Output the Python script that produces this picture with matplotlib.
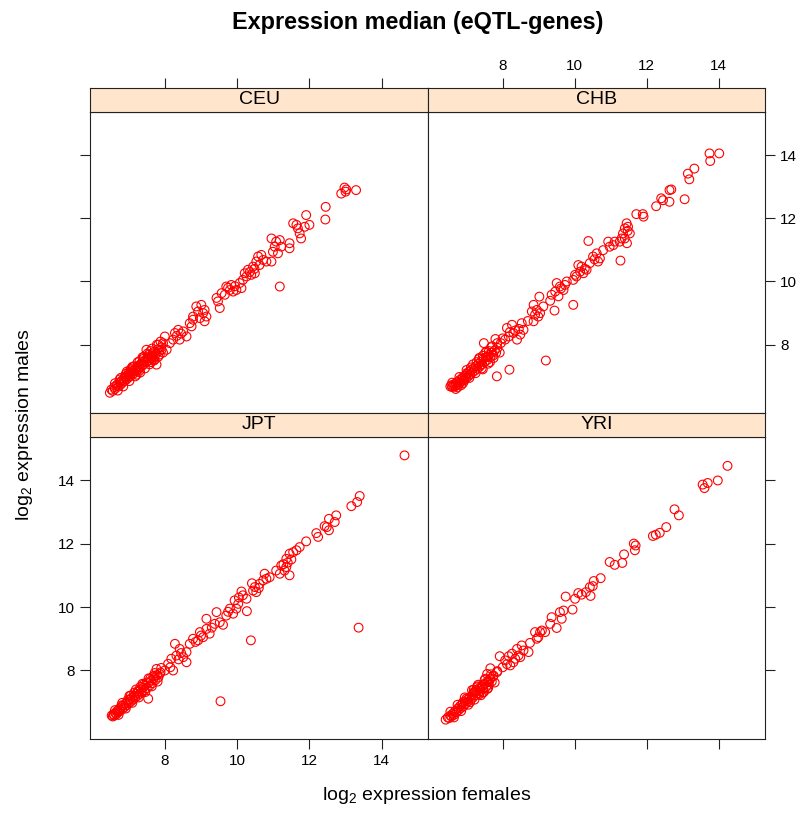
import numpy as np
import matplotlib
matplotlib.use("Agg")
import matplotlib.pyplot as plt

plt.rcParams["font.family"] = ["Liberation Sans", "DejaVu Sans"]
plt.rcParams["mathtext.fontset"] = "custom"
plt.rcParams["mathtext.rm"] = "Liberation Sans"

# (female, male) median log2 expression per gene, one array per population
ceu = np.array([
    (6.48, 6.48), (6.52, 6.58), (6.56, 6.54), (6.6, 6.66), (6.62, 6.6), (6.66, 6.7), (6.68, 6.74),
    (6.72, 6.68), (6.75, 6.8), (6.78, 6.74), (6.8, 6.86), (6.83, 6.8), (6.86, 6.92), (6.88, 6.85),
    (6.91, 6.95), (6.94, 6.9), (6.96, 7.02), (6.99, 6.96), (7.02, 7.08), (7.04, 7.0), (7.07, 7.12),
    (7.1, 7.05), (7.12, 7.18), (7.15, 7.1), (7.18, 7.22), (7.2, 7.16), (7.23, 7.3), (7.26, 7.22),
    (7.28, 7.34), (7.31, 7.28), (7.34, 7.4), (7.37, 7.33), (7.4, 7.46), (7.42, 7.38), (7.45, 7.5),
    (7.48, 7.44), (7.52, 7.58), (7.55, 7.5), (7.58, 7.62), (7.62, 7.56), (7.65, 7.7), (7.68, 7.64),
    (7.72, 7.78), (7.75, 7.7), (7.8, 7.85), (7.85, 7.8), (7.9, 7.92), (7.49, 7.84), (7.77, 7.37),
    (7.3, 7.48), (7.6, 7.8), (7.1, 7.25), (6.9, 7.0), (7.0, 7.12), (7.4, 7.55),
    (6.62, 6.78), (6.7, 6.55), (6.78, 6.95), (6.85, 6.68), (6.95, 7.15), (7.02, 6.85), (7.1, 7.3),
    (7.18, 7.0), (7.25, 7.45), (7.32, 7.12), (7.38, 7.6), (7.45, 7.25), (7.52, 7.72), (7.58, 7.38),
    (7.65, 7.88), (7.7, 7.5), (7.78, 8.0), (7.82, 7.62), (7.88, 8.1), (7.95, 7.75), (7.05, 7.22),
    (7.22, 7.05), (7.42, 7.62), (7.62, 7.45), (6.92, 7.08), (7.3, 7.18), (7.55, 7.68), (7.68, 7.55),
    (7.15, 7.32), (6.75, 6.9),
    (7.54, 7.58), (7.63, 7.63), (7.72, 7.53), (7.82, 8.0), (7.86, 7.69), (7.91, 7.84),
    (8.0, 8.26), (8.23, 8.16), (8.37, 8.47), (8.51, 8.42), (8.6, 8.26), (8.41, 8.16), (8.14, 8.05),
    (7.95, 8.05), (8.28, 8.37), (8.05, 7.84), (8.45, 8.35), (8.33, 8.28),
    (8.69, 8.68), (8.78, 8.89), (8.87, 9.21), (9.01, 9.26), (9.1, 9.1), (9.15, 8.89), (9.1, 8.74),
    (8.97, 8.84), (8.78, 8.79), (9.06, 9.0), (8.74, 8.58), (8.92, 9.05),
    (9.52, 9.16), (9.47, 9.37), (9.57, 9.63), (9.7, 9.84), (9.84, 9.89), (9.98, 9.73), (10.12, 9.79),
    (9.89, 9.68), (9.66, 9.58), (9.8, 9.73), (10.07, 9.95), (10.16, 10.05), (10.21, 10.26),
    (10.26, 10.16), (9.43, 9.48), (9.75, 9.8), (9.94, 9.85),
    (10.3, 10.37), (10.44, 10.47), (10.53, 10.63), (10.58, 10.79), (10.67, 10.84), (10.72, 10.68),
    (10.81, 10.63), (10.95, 10.63), (10.62, 10.52), (10.49, 10.26), (10.39, 10.21), (10.35, 10.3),
    (10.48, 10.4),
    (10.95, 11.36), (11.08, 11.26), (11.18, 11.31), (11.04, 11.1), (11.13, 10.89), (11.45, 11.21),
    (11.45, 11.05), (10.99, 10.94), (11.22, 11.1), (11.18, 9.84),
    (11.55, 11.84), (11.68, 11.68), (11.73, 11.52), (11.77, 11.36), (11.91, 12.1), (12.0, 11.79),
    (11.87, 11.73), (11.64, 11.79), (12.45, 12.36), (12.44, 11.96),
    (12.88, 12.78), (12.97, 12.97), (13.0, 12.84), (13.02, 12.91), (13.29, 12.89),
])

chb = np.array([
    (6.55, 6.68), (6.58, 6.72), (6.6, 6.66), (6.63, 6.7), (6.66, 6.75), (6.68, 6.68), (6.7, 6.78),
    (6.72, 6.72), (6.75, 6.82), (6.78, 6.76), (6.8, 6.88), (6.83, 6.8), (6.86, 6.92), (6.88, 6.86),
    (6.9, 6.98), (6.93, 6.9), (6.96, 7.02), (6.99, 6.95), (7.02, 7.08), (7.05, 7.0), (7.08, 7.15),
    (7.1, 7.06), (7.13, 7.2), (7.16, 7.12), (7.2, 7.26), (7.23, 7.18), (7.26, 7.32), (7.3, 7.24),
    (7.33, 7.4), (7.36, 7.3), (7.4, 7.46), (7.43, 7.38), (7.46, 7.55), (7.5, 7.45), (7.54, 7.6),
    (7.58, 7.52), (7.62, 7.68), (7.66, 7.6), (7.7, 7.75), (7.74, 7.66), (7.78, 7.82), (7.82, 7.75),
    (7.86, 7.9), (7.35, 7.55), (7.55, 7.78), (7.48, 8.05), (7.8, 8.18), (7.71, 7.95), (7.45, 7.22),
    (7.65, 7.45), (6.85, 6.72), (7.0, 7.1),
    (6.6, 6.8), (6.7, 6.6), (6.8, 6.98), (6.9, 6.78), (7.0, 7.2), (7.08, 6.95), (7.18, 7.38),
    (7.25, 7.1), (7.35, 7.58), (7.42, 7.25), (7.52, 7.75), (7.6, 7.4), (7.68, 7.92), (7.75, 7.58),
    (7.85, 8.05), (7.92, 7.75), (7.12, 7.28), (7.28, 7.45), (7.45, 7.65), (7.62, 7.8), (6.75, 6.65),
    (6.95, 6.88), (7.38, 7.35), (7.58, 7.62),
    (8.07, 8.16), (8.12, 8.53), (8.17, 8.26), (8.26, 8.63), (8.3, 8.37), (8.4, 8.16), (8.49, 8.32),
    (8.53, 8.68), (8.58, 8.47), (8.2, 8.4), (8.35, 8.45), (8.45, 8.5), (7.95, 8.05), (8.0, 8.2),
    (8.81, 9.05), (8.86, 9.26), (8.95, 9.1), (8.99, 8.89), (8.86, 8.74), (9.13, 9.21), (9.04, 9.0),
    (8.9, 8.95), (8.7, 8.75),
    (9.02, 9.52), (9.32, 9.39), (9.44, 9.08), (9.96, 9.26),
    (9.5, 9.95), (9.59, 9.84), (9.46, 9.68), (9.69, 9.73), (9.78, 10.0), (9.55, 9.53), (9.36, 9.58),
    (9.73, 9.89), (9.62, 9.78),
    (10.1, 10.52), (10.19, 10.47), (10.24, 10.26), (10.05, 10.16), (9.96, 10.05), (10.33, 10.37),
    (10.15, 10.31), (10.01, 10.21), (10.28, 10.4),
    (10.93, 11.26), (11.07, 11.15), (10.79, 10.99), (10.61, 10.89), (10.51, 10.79), (10.65, 10.63),
    (10.42, 10.58), (10.7, 10.73), (10.97, 11.1), (11.11, 11.26), (10.55, 10.7), (10.38, 11.28),
    (11.44, 11.84), (11.39, 11.68), (11.48, 11.73), (11.34, 11.52), (11.3, 11.36), (11.45, 11.21),
    (11.25, 11.26), (11.53, 11.52), (11.39, 11.36), (11.47, 11.6), (11.27, 10.66),
    (11.71, 12.13), (11.89, 12.13), (11.91, 12.05),
    (12.4, 12.63), (12.45, 12.57), (12.63, 12.52), (12.26, 12.38), (13.05, 12.6),
    (12.63, 12.89), (12.68, 12.91),
    (13.14, 13.41), (13.32, 13.57), (13.18, 13.23),
    (13.74, 14.05), (14.01, 14.05), (13.76, 13.81),
    (9.2, 7.5), (8.19, 7.21), (7.84, 7.0),
])

jpt = np.array([
    (6.53, 6.58), (6.56, 6.55), (6.58, 6.62), (6.6, 6.58), (6.63, 6.66), (6.66, 6.62), (6.68, 6.72),
    (6.7, 6.68), (6.73, 6.78), (6.76, 6.72), (6.79, 6.84), (6.82, 6.78), (6.85, 6.9), (6.88, 6.84),
    (6.91, 6.96), (6.94, 6.9), (6.97, 7.02), (7.0, 6.96), (7.03, 7.08), (7.06, 7.02), (7.09, 7.14),
    (7.12, 7.08), (7.15, 7.2), (7.18, 7.14), (7.21, 7.27), (7.24, 7.2), (7.27, 7.33), (7.3, 7.26),
    (7.33, 7.4), (7.36, 7.32), (7.4, 7.46), (7.43, 7.38), (7.46, 7.52), (7.5, 7.44), (7.54, 7.6),
    (7.58, 7.52), (7.62, 7.68), (7.66, 7.6), (7.7, 7.76), (7.74, 7.7), (7.78, 7.85), (7.82, 7.78),
    (7.88, 7.94), (7.54, 7.11), (7.4, 7.55), (7.6, 7.75), (7.25, 7.35), (7.05, 7.2), (6.8, 6.9),
    (6.62, 6.75), (6.72, 6.6), (6.82, 6.98), (6.92, 6.8), (7.02, 7.2), (7.1, 6.98), (7.2, 7.4),
    (7.28, 7.15), (7.38, 7.58), (7.46, 7.32), (7.55, 7.75), (7.64, 7.5), (7.72, 7.92), (7.8, 7.65),
    (7.9, 8.08), (7.15, 7.3), (7.32, 7.48), (7.5, 7.62), (7.68, 7.82), (6.98, 7.08),
    (7.77, 8.05), (7.86, 7.89), (8.0, 8.0), (7.72, 7.84), (8.23, 8.0), (8.09, 8.21), (8.18, 8.37),
    (8.28, 8.84), (8.32, 8.47), (8.41, 8.68), (8.51, 8.42), (8.6, 8.58), (8.6, 8.26), (8.15, 8.1),
    (8.38, 8.35), (8.45, 8.55),
    (8.69, 8.84), (8.78, 9.0), (8.92, 8.95), (8.97, 9.21), (9.06, 9.05), (9.15, 9.31), (9.24, 9.16),
    (8.85, 8.9), (9.0, 9.1),
    (9.43, 9.84), (9.15, 9.63), (9.38, 9.47), (9.61, 9.44), (9.52, 9.52), (9.3, 9.35),
    (9.7, 9.73), (9.8, 9.95), (9.89, 9.79), (9.93, 10.21), (9.98, 9.95), (10.03, 10.1), (10.12, 10.49),
    (10.16, 10.37), (10.26, 10.26), (9.75, 9.85), (10.05, 10.3),
    (10.41, 10.75), (10.27, 9.87), (10.38, 8.95), (13.36, 9.35), (9.54, 7.03),
    (10.44, 10.52), (10.49, 10.63), (10.53, 10.47), (10.62, 10.73), (10.72, 10.84), (10.76, 11.05),
    (10.81, 10.89), (10.9, 10.94), (10.6, 10.6),
    (11.08, 11.15), (11.18, 11.05), (11.22, 11.31), (11.31, 11.15), (11.36, 11.26), (11.45, 11.0),
    (11.36, 11.52), (11.5, 11.5), (11.45, 11.68), (11.55, 11.73), (11.64, 11.79), (11.28, 11.35),
    (11.4, 11.4),
    (11.73, 11.89), (11.91, 12.07), (12.19, 12.33), (12.24, 12.21),
    (12.42, 12.55), (12.48, 12.52), (12.54, 12.42), (12.54, 12.78), (12.7, 12.68), (12.74, 12.89),
    (13.16, 13.18), (13.32, 13.31), (13.39, 13.5),
    (14.63, 14.78),
])

yri = np.array([
    (6.42, 6.45), (6.48, 6.52), (6.52, 6.5), (6.55, 6.58), (6.58, 6.55), (6.62, 6.64), (6.65, 6.6),
    (6.68, 6.72), (6.72, 6.68), (6.75, 6.8), (6.78, 6.75), (6.82, 6.88), (6.85, 6.82), (6.88, 6.94),
    (6.92, 6.88), (6.95, 7.02), (6.98, 6.96), (7.02, 7.08), (7.05, 7.03), (7.08, 7.15), (7.12, 7.08),
    (7.15, 7.22), (7.18, 7.15), (7.22, 7.3), (7.25, 7.22), (7.28, 7.36), (7.32, 7.28), (7.35, 7.44),
    (7.38, 7.35), (7.42, 7.5), (7.46, 7.42), (7.5, 7.58), (7.54, 7.48), (7.58, 7.66), (7.62, 7.55),
    (7.66, 7.75), (7.7, 7.65), (7.74, 7.82), (7.35, 7.25), (7.45, 7.3), (7.1, 7.0), (7.6, 7.45),
    (7.3, 7.5), (7.2, 7.4), (7.48, 7.32), (7.2, 7.32), (7.38, 7.42), (7.29, 7.47), (7.52, 7.74),
    (7.61, 7.63), (7.57, 7.89), (7.75, 7.84), (7.66, 8.07),
    (6.55, 6.7), (6.65, 6.52), (6.75, 6.92), (6.85, 6.72), (6.95, 7.15), (7.05, 6.92), (7.15, 7.38),
    (7.22, 7.08), (7.32, 7.55), (7.4, 7.22), (7.5, 7.7), (7.58, 7.42), (7.68, 7.88), (7.78, 7.62),
    (7.85, 7.98), (7.0, 7.12), (7.25, 7.35), (7.45, 7.55), (7.65, 7.72), (6.9, 7.0),
    (8.76, 8.87), (8.53, 8.79), (8.72, 8.58), (8.58, 8.63), (8.44, 8.47), (8.35, 8.37), (8.26, 8.53),
    (8.17, 8.45), (7.92, 8.45), (8.3, 8.26), (8.49, 8.42), (8.07, 8.32), (8.21, 8.16), (8.4, 8.68),
    (8.0, 8.1), (8.12, 8.2), (7.85, 7.95),
    (9.18, 9.21), (9.04, 9.21), (8.9, 9.21), (8.95, 9.0), (9.09, 9.26), (8.99, 9.05),
    (9.59, 9.84), (9.69, 9.89), (9.36, 9.68), (9.32, 9.47), (9.64, 9.63), (9.5, 9.34),
    (10.72, 10.91), (10.53, 10.82), (10.5, 10.66), (10.42, 10.63), (10.44, 10.35), (10.31, 10.47),
    (10.19, 10.39), (10.1, 10.44), (10.01, 10.26), (9.75, 10.33), (9.94, 9.92),
    (11.37, 11.66), (11.32, 11.39), (11.11, 11.33), (10.97, 11.42),
    (11.64, 12.0), (11.69, 11.94), (11.67, 11.79),
    (12.54, 12.52), (12.36, 12.34), (12.17, 12.24), (12.25, 12.28),
    (12.77, 13.08), (12.89, 12.89),
    (13.97, 13.99), (13.69, 13.91), (13.55, 13.86), (13.6, 13.75),
    (14.24, 14.45),
])

populations = ["CEU", "CHB", "JPT", "YRI"]
panel_data = [ceu, chb, jpt, yri]
ticks = [8, 10, 12, 14]
xlim = (5.93, 15.28)
ylim = (5.84, 15.36)

W, H = 806, 817
fig = plt.figure(figsize=(W / 100, H / 100), dpi=100)

cols = [(90, 428), (428, 765)]
rows = [(88, 112, 413), (413, 437, 739)]   # strip top, panel top, panel bottom
strip_col = "#ffe5cc"
frame_col = "#222222"
tick_fs = 11

for k, (name, d) in enumerate(zip(populations, panel_data)):
    r, c = divmod(k, 2)
    x0, x1 = cols[c]
    st, pt, pb = rows[r]
    ax = fig.add_axes([x0 / W, 1 - pb / H, (x1 - x0) / W, (pb - pt) / H])
    sax = fig.add_axes([x0 / W, 1 - pt / H, (x1 - x0) / W, (pt - st) / H], sharex=ax)

    ax.scatter(d[:, 0], d[:, 1], s=40, facecolors="none", edgecolors="#ff0000",
               linewidths=0.8, zorder=3)
    ax.set_xlim(*xlim)
    ax.set_ylim(*ylim)
    ax.set_xticks(ticks)
    ax.set_yticks(ticks)
    ax.tick_params(direction="out", length=7, width=0.8, color=frame_col,
                   labelsize=tick_fs, pad=4,
                   top=False, labeltop=False,
                   bottom=(r == 1), labelbottom=(r == 1 and c == 0),
                   left=(c == 0), labelleft=(c == 0 and r == 1),
                   right=(c == 1), labelright=(c == 1 and r == 0))
    for sp in ax.spines.values():
        sp.set_color(frame_col)
        sp.set_linewidth(0.8)

    sax.set_facecolor(strip_col)
    sax.set_ylim(0, 1)
    sax.tick_params(direction="out", length=7, width=0.8, color=frame_col,
                    labelsize=tick_fs, pad=4,
                    left=False, labelleft=False, right=False, labelright=False,
                    bottom=False, labelbottom=False,
                    top=(r == 0), labeltop=(r == 0 and c == 1))
    for sp in sax.spines.values():
        sp.set_color(frame_col)
        sp.set_linewidth(0.8)
    sax.text(0.5, 0.5, name, transform=sax.transAxes, ha="center", va="center",
             fontsize=14)

fig.text(418 / W, 1 - 22 / H, "Expression median (eQTL-genes)", ha="center",
         va="center", fontsize=16.8, fontweight="bold")
fig.text(427 / W, 1 - 795 / H, r"log$_2$ expression females", ha="center",
         va="center", fontsize=14)
fig.text(25 / W, 1 - 425 / H, r"log$_2$ expression males", ha="center",
         va="center", rotation=90, fontsize=14)

fig.savefig("out.png", dpi=100)
